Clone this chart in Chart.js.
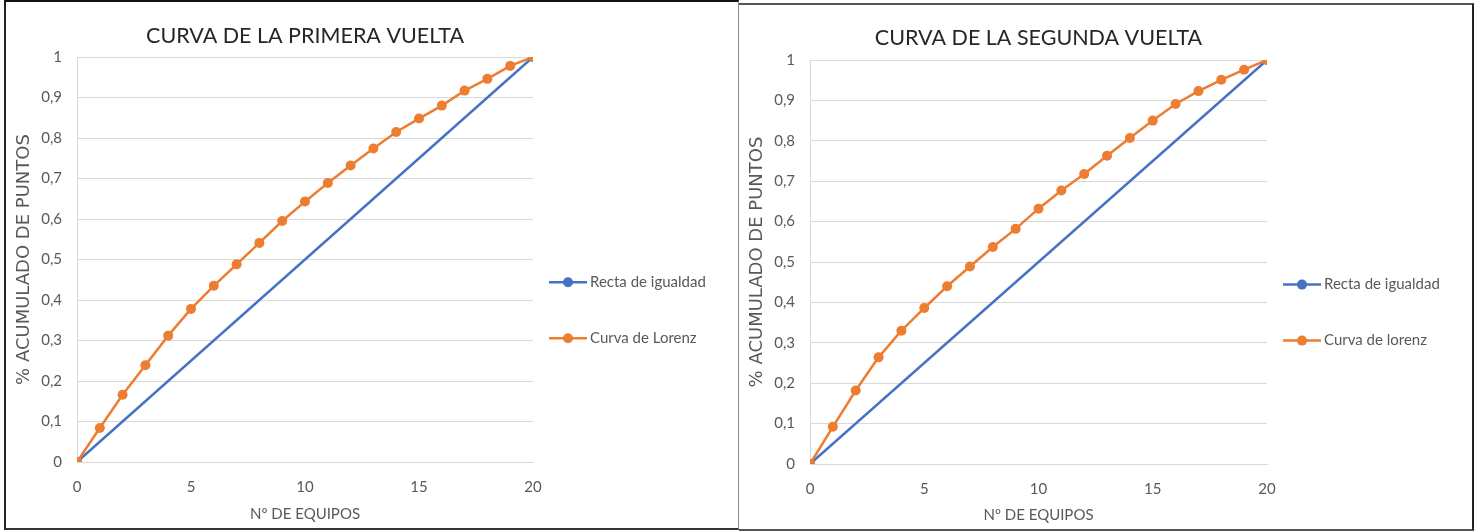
<!DOCTYPE html>
<html lang="es">
<head>
<meta charset="utf-8">
<title>Curvas de Lorenz</title>
<script src="https://cdn.jsdelivr.net/npm/chart.js@4.4.1/dist/chart.umd.min.js"></script>
<style>
  html, body { margin: 0; padding: 0; background: #fff; }
  body { width: 1480px; height: 531px; position: relative; overflow: hidden; }
  .frame { position: absolute; box-sizing: border-box; background: #fff; }
  #frame1 { left: 4px; top: 0; width: 735px; height: 530px; border-top: 2px solid #111; border-left: 2px solid #222; border-bottom: 2px solid #333; border-right: 1px solid #8c8c8c; }
  #frame2 { left: 739px; top: 3px; width: 735px; height: 528px; border-top: 2px solid #555; border-right: 2px solid #222; border-bottom: 2px solid #555; }
  canvas { display: block; }
</style>
</head>
<body>
<div class="frame" id="frame1"><canvas id="chart-primera" width="732" height="526"></canvas></div>
<div class="frame" id="frame2"><canvas id="chart-segunda" width="733" height="524"></canvas></div>

<script>
// Nº de equipos (eje x)
var equipos = [0, 1, 2, 3, 4, 5, 6, 7, 8, 9, 10, 11, 12, 13, 14, 15, 16, 17, 18, 19, 20];

// % acumulado de puntos
var primeraVuelta = [0, 0.084, 0.166, 0.239, 0.312, 0.378, 0.435, 0.488, 0.541, 0.595, 0.643,
  0.689, 0.732, 0.774, 0.815, 0.848, 0.880, 0.917, 0.946, 0.978, 1];
var segundaVuelta = [0, 0.092, 0.182, 0.264, 0.330, 0.386, 0.440, 0.489, 0.537, 0.582, 0.632,
  0.677, 0.718, 0.763, 0.807, 0.850, 0.891, 0.923, 0.951, 0.976, 1];

// recta de igualdad: solo los extremos
var igualdadX = [0, 20];
var igualdadY = [0, 1];

var BLUE = "#4472C4";
var ORANGE = "#ED7D31";
var GRID = "#d9d9d9";
var TEXT = "#595959";
var NARROW = "Lato, 'Liberation Sans Narrow', sans-serif";

function toPoints(xs, ys) {
  return xs.map(function (x, i) { return { x: x, y: ys[i] }; });
}

function fmtTick(v) {
  if (v === 0 || v === 1) return String(v);
  return v.toFixed(1).replace(".", ",");
}

// leyenda a la derecha del area de trazado (linea + marcador + texto)
var lineLegend = {
  id: "lineLegend",
  afterDraw: function (chart, args, opts) {
    var ctx = chart.ctx;
    var ca = chart.chartArea;
    var x0 = ca.right + opts.gap;
    var y = ca.top + ca.height * opts.offset;
    ctx.save();
    chart.data.datasets.forEach(function (ds) {
      ctx.strokeStyle = ds.borderColor;
      ctx.lineWidth = ds.borderWidth;
      ctx.beginPath();
      ctx.moveTo(x0, y);
      ctx.lineTo(x0 + opts.lineLength, y);
      ctx.stroke();
      ctx.fillStyle = ds.borderColor;
      ctx.beginPath();
      ctx.arc(x0 + opts.lineLength / 2, y, ds.pointRadius, 0, Math.PI * 2);
      ctx.fill();
      ctx.fillStyle = opts.color;
      ctx.font = opts.fontSize + "px " + NARROW;
      ctx.textBaseline = "middle";
      ctx.textAlign = "left";
      ctx.fillText(ds.label, x0 + opts.lineLength + 3, y);
      y += opts.spacing;
    });
    ctx.restore();
  }
};

function initLorenzChart(id, title, lorenzLabel, lorenzData, box) {
  var el = document.getElementById(id);
  if (el === null) return null;
  var ctx = el.getContext("2d");

  return new Chart(ctx, {
    type: "line",
    data: {
      datasets: [
        {
          label: "Recta de igualdad",
          data: toPoints(igualdadX, igualdadY),
          borderColor: BLUE,
          backgroundColor: BLUE,
          borderWidth: 2.5,
          pointRadius: 5,
          pointBorderWidth: 0,
          tension: 0,
          order: 1
        },
        {
          label: lorenzLabel,
          data: toPoints(equipos, lorenzData),
          borderColor: ORANGE,
          backgroundColor: ORANGE,
          borderWidth: 2.5,
          pointRadius: 5,
          pointBorderWidth: 0,
          tension: 0,
          order: 0
        }
      ]
    },
    options: {
      responsive: false,
      animation: false,
      layout: {
        padding: { left: 0, top: 0, bottom: 0, right: el.width - box.right }
      },
      plugins: {
        legend: { display: false },
        tooltip: { enabled: false },
        title: {
          display: true,
          text: title,
          fullSize: false,
          color: "#262626",
          font: { family: NARROW, size: 21.5, weight: "normal", lineHeight: 1.2 },
          padding: { top: box.titleY - 12.9, bottom: box.top - box.titleY - 12.9 }
        },
        lineLegend: {
          gap: 16,
          offset: 0.556,
          spacing: 56,
          lineLength: 38,
          fontSize: 15,
          color: TEXT
        }
      },
      scales: {
        x: {
          type: "linear",
          min: 0,
          max: 20,
          afterFit: function (scale) { scale.height = el.height - box.bottom; },
          grid: { display: false, drawTicks: false },
          border: { display: true, color: GRID, width: 1 },
          ticks: {
            stepSize: 5,
            padding: 16,
            color: TEXT,
            font: { family: NARROW, size: 15 }
          },
          title: {
            display: true,
            text: "Nº DE EQUIPOS",
            color: TEXT,
            font: { family: NARROW, size: 15, lineHeight: 1.2 },
            padding: { top: 0, bottom: 5 }
          }
        },
        y: {
          min: 0,
          max: 1,
          afterFit: function (scale) { scale.width = box.left; },
          grid: { color: GRID, lineWidth: 1, drawTicks: false },
          border: { display: true, color: GRID, width: 1 },
          ticks: {
            stepSize: 0.1,
            padding: 15,
            color: TEXT,
            font: { family: NARROW, size: 15 },
            callback: fmtTick
          },
          title: {
            display: true,
            text: "% ACUMULADO DE PUNTOS",
            color: TEXT,
            font: { family: "'DejaVu Sans', Verdana, sans-serif", size: 18, lineHeight: 1.2 },
            padding: { top: 8, bottom: 0 }
          }
        }
      }
    },
    plugins: [lineLegend]
  });
}

initLorenzChart("chart-primera", "CURVA DE LA PRIMERA VUELTA", "Curva de Lorenz", primeraVuelta,
  { left: 71, right: 527, top: 55, bottom: 460, titleY: 34.5 });
initLorenzChart("chart-segunda", "CURVA DE LA SEGUNDA VUELTA", "Curva de lorenz", segundaVuelta,
  { left: 71, right: 528, top: 55, bottom: 459, titleY: 33 });
</script>
</body>
</html>
